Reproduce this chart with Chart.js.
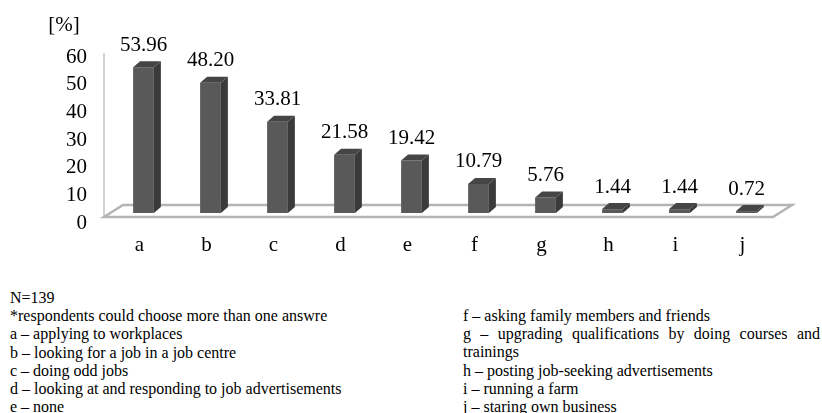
<!DOCTYPE html>
<html>
<head>
<meta charset="utf-8">
<title>Job seeking methods</title>
<script src="https://cdn.jsdelivr.net/npm/chart.js@4/dist/chart.umd.min.js"></script>
<style>
  body {
    margin: 0;
    background: #fff;
    width: 822px;
    height: 413px;
    overflow: hidden;
    position: relative;
    font-family: "Liberation Serif", "DejaVu Serif", serif;
    color: #000;
  }
  #chartBox { position: absolute; left: 0; top: 0; }
  .notes { position: absolute; font-size: 16px; line-height: 18.2px; }
  #notesLeft { left: 10px; top: 289px; width: 440px; }
  #notesRight { left: 463px; top: 307px; width: 357px; text-align: justify; }
</style>
</head>
<body>
<div id="chartBox"><canvas id="methodsChart" width="822" height="270"></canvas></div>
<div class="notes" id="notesLeft"></div>
<div class="notes" id="notesRight"></div>

<script>
// Chart data
const categories = ['a', 'b', 'c', 'd', 'e', 'f', 'g', 'h', 'i', 'j'];
const shares = [53.96, 48.20, 33.81, 21.58, 19.42, 10.79, 5.76, 1.44, 1.44, 0.72];
const yTicks = [0, 10, 20, 30, 40, 50, 60];
const descriptions = [
    'applying to workplaces',
    'looking for a job in a job centre',
    'doing odd jobs',
    'looking at and responding to job advertisements',
    'none',
    'asking family members and friends',
    'upgrading qualifications by doing courses and trainings',
    'posting job-seeking advertisements',
    'running a farm',
    'staring own business'
];
const sampleNote = 'N=139';
const multiNote = '*respondents could choose more than one answre';
const unitLabel = '[%]';

const FONT = '"Liberation Serif", "DejaVu Serif", serif';
const DX = 7;   // depth of the fake 3d bars
const DY = 6;

// Notes under the chart
const left = document.getElementById('notesLeft');
const right = document.getElementById('notesRight');
[sampleNote, multiNote].forEach(t => {
    const d = document.createElement('div');
    d.textContent = t;
    left.appendChild(d);
});
categories.forEach((c, i) => {
    const d = document.createElement('div');
    d.textContent = c + ' \u2013 ' + descriptions[i];
    (i < 5 ? left : right).appendChild(d);
});

// Floor, wall, bar sides and value labels
const bar3d = {
    id: 'bar3d',
    beforeDatasetsDraw(chart) {
        const { ctx, chartArea: a } = chart;
        ctx.save();
        // back wall edge
        ctx.beginPath();
        ctx.moveTo(a.left - 6, a.top - 4);
        ctx.lineTo(a.left - 6, a.bottom - 6);
        ctx.strokeStyle = '#d2d2d2';
        ctx.lineWidth = 2;
        ctx.stroke();
        // floor
        ctx.beginPath();
        ctx.moveTo(a.left - 6, a.bottom - 6);
        ctx.lineTo(a.right - 7, a.bottom - 6);
        ctx.lineTo(a.right + 12, a.bottom - 18);
        ctx.lineTo(a.left + 13, a.bottom - 18);
        ctx.closePath();
        ctx.fillStyle = '#fff';
        ctx.fill();
        ctx.strokeStyle = '#b4b4b4';
        ctx.lineWidth = 2.5;
        ctx.stroke();
        ctx.restore();
    },
    afterDatasetsDraw(chart) {
        const { ctx } = chart;
        const meta = chart.getDatasetMeta(0);
        ctx.save();
        meta.data.forEach((bar, i) => {
            const l = bar.x - bar.width / 2;
            const r = bar.x + bar.width / 2;
            const top = bar.y;
            const base = bar.base;
            // right side
            ctx.fillStyle = '#3a3a3a';
            ctx.beginPath();
            ctx.moveTo(r, top);
            ctx.lineTo(r + DX, top - DY);
            ctx.lineTo(r + DX, base - DY);
            ctx.lineTo(r, base);
            ctx.closePath();
            ctx.fill();
            // top
            ctx.fillStyle = '#454545';
            ctx.beginPath();
            ctx.moveTo(l, top);
            ctx.lineTo(l + DX, top - DY);
            ctx.lineTo(r + DX, top - DY);
            ctx.lineTo(r, top);
            ctx.closePath();
            ctx.fill();
            // value
            ctx.fillStyle = '#000';
            ctx.font = '21px ' + FONT;
            ctx.textAlign = 'center';
            ctx.textBaseline = 'middle';
            ctx.fillText(shares[i].toFixed(2), bar.x, top - 22);
        });
        // unit above the y axis
        ctx.font = '21px ' + FONT;
        ctx.textAlign = 'center';
        ctx.textBaseline = 'middle';
        ctx.fillText(unitLabel, 64, 25);
        ctx.restore();
    }
};

// bars sit a little above the tick "0" (front of the floor), 2.7 px per unit
const barMin = -3.70;
const barMax = 57.78;

const chart = new Chart(document.getElementById('methodsChart'), {
    type: 'bar',
    data: {
        labels: categories,
        datasets: [{
            data: shares,
            yAxisID: 'yb',
            backgroundColor: '#595959',
            borderWidth: 0,
            categoryPercentage: 1,
            barPercentage: 0.31
        }]
    },
    options: {
        responsive: false,
        animation: false,
        layout: { padding: { top: 57, right: 42, bottom: 7, left: 0 } },
        plugins: {
            legend: { display: false },
            tooltip: { enabled: false }
        },
        scales: {
            x: {
                grid: { display: false, drawTicks: false },
                border: { display: false },
                ticks: { color: '#000', font: { family: FONT, size: 21 }, padding: 10, labelOffset: -4 },
                afterFit: s => { s.height = 40; }
            },
            y: {
                position: 'left',
                min: yTicks[0],
                max: yTicks[yTicks.length - 1],
                afterBuildTicks: s => { s.ticks = yTicks.map(v => ({ value: v })); },
                grid: { display: false, drawTicks: false },
                border: { display: false },
                ticks: { color: '#000', font: { family: FONT, size: 21, lineHeight: 1 }, padding: 23, autoSkip: false },
                afterFit: s => { s.width = 110; }
            },
            yb: { display: false, min: barMin, max: barMax }
        }
    },
    plugins: [bar3d]
});
</script>
</body>
</html>
